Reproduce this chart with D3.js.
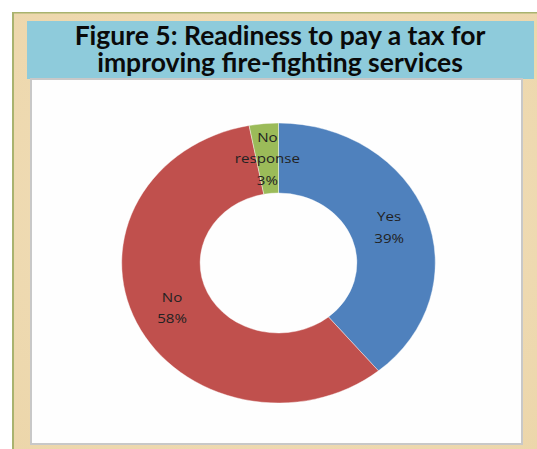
<!DOCTYPE html>
<html>
<head>
<meta charset="utf-8">
<script src="https://cdn.jsdelivr.net/npm/d3@7"></script>
<style>
  html, body { margin: 0; padding: 0; background: #ffffff; }
  svg { display: block; }
</style>
</head>
<body>
<script>
// Survey answers: readiness to pay a tax for better fire-fighting services
const categories = ["Yes", "No", "No response"];
const values = [39, 58, 3];
const colors = ["#4f81bd", "#c0504d", "#9bbb59"];
// Data-label wording (category name may wrap over two lines)
const labelLines = [["Yes"], ["No"], ["No", "response"]];
const titleLines = ["Figure 5: Readiness to pay a tax for", "improving fire-fighting services"];

const W = 537, H = 449;
const svg = d3.select("body").append("svg")
  .attr("width", W).attr("height", H);

// Parchment panel with olive edge
const defs = svg.append("defs");
const grad = defs.append("radialGradient").attr("id", "parch")
  .attr("cx", "50%").attr("cy", "45%").attr("r", "75%");
grad.append("stop").attr("offset", "0%").attr("stop-color", "#f2e0bd");
grad.append("stop").attr("offset", "100%").attr("stop-color", "#ecd6aa");

svg.append("rect").attr("x", 12).attr("y", 12)
  .attr("width", W - 12).attr("height", H - 12)
  .attr("fill", "url(#parch)");
svg.append("rect").attr("x", 12).attr("y", 12)
  .attr("width", 2).attr("height", H - 12).attr("fill", "#a9b36f");
svg.append("rect").attr("x", 12).attr("y", 12)
  .attr("width", W - 12).attr("height", 1.5).attr("fill", "#a9b36f");

// Title banner
svg.append("rect").attr("x", 27).attr("y", 21)
  .attr("width", 507).attr("height", 58).attr("fill", "#8ecbdb");

const title = svg.append("text")
  .attr("text-anchor", "middle")
  .style("font-family", "Lato, 'Open Sans', sans-serif")
  .style("font-weight", 700)
  .style("font-size", "26.5px")
  .attr("fill", "#0a0a0a");
titleLines.forEach((t, i) => {
  title.append("tspan").attr("x", 280).attr("y", 45 + i * 26.5).text(t);
});

// Chart area
svg.append("rect").attr("x", 31).attr("y", 79)
  .attr("width", 491).attr("height", 365)
  .attr("fill", "#fefefe")
  .attr("stroke", "#c8c8c8").attr("stroke-width", 2);

// Doughnut (rendered slightly wider than tall)
const cx = 278.5, cy = 263, R = 140, r = 70, sx = 1.12;
const g = svg.append("g")
  .attr("transform", `translate(${cx},${cy}) scale(${sx},1)`);

const pie = d3.pie().sort(null).value(d => d.value);
const arc = d3.arc().innerRadius(r).outerRadius(R);
const data = categories.map((c, i) => ({ name: c, value: values[i], color: colors[i], lines: labelLines[i] }));
const arcs = pie(data);

g.selectAll("path.slice").data(arcs).enter().append("path")
  .attr("class", "slice")
  .attr("d", arc)
  .attr("fill", d => d.data.color)
  .attr("stroke", "#ffffff").attr("stroke-width", 0.4);

// Data labels at the ring centroid
const total = d3.sum(values);
const lab = g.selectAll("text.lab").data(arcs).enter().append("text")
  .attr("class", "lab")
  .attr("text-anchor", "middle")
  .style("font-family", "'Open Sans', 'Liberation Sans', sans-serif")
  .style("font-size", "13.5px")
  .attr("fill", "#222222")
  .attr("transform", d => { const [x, y] = arc.centroid(d); return `translate(${x},${y})`; });

lab.each(function (d) {
  const lines = d.data.lines.concat([Math.round(d.data.value / total * 100) + "%"]);
  const n = lines.length, lh = 21.5;
  const t = d3.select(this);
  lines.forEach((s, i) => {
    t.append("tspan").attr("x", 0)
      .attr("y", (i - (n - 1) / 2) * lh)
      .attr("dy", "0.35em")
      .text(s);
  });
});
</script>
</body>
</html>
